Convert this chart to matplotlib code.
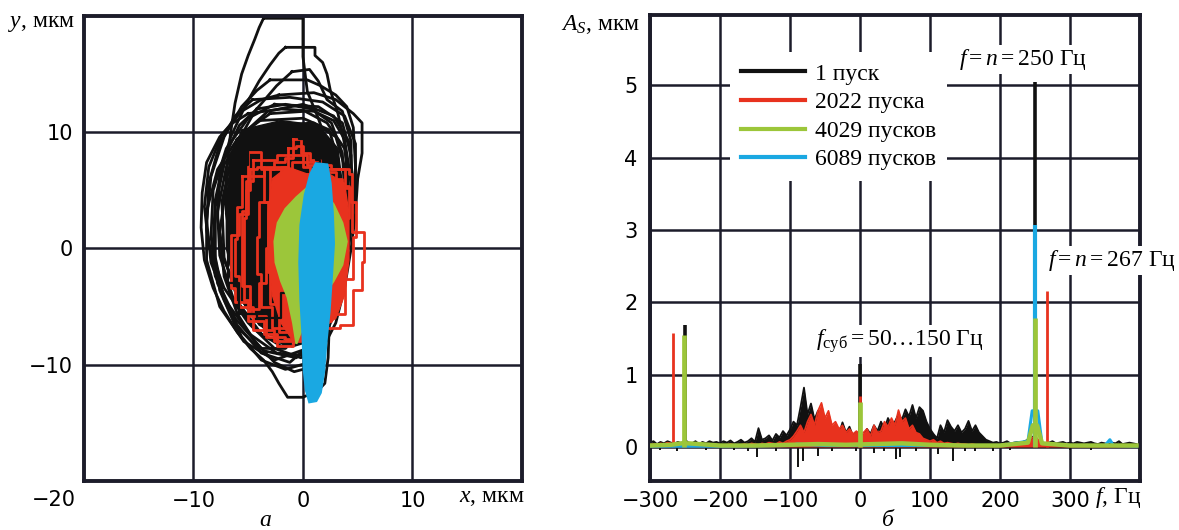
import numpy as np
import matplotlib
matplotlib.use("Agg")
import matplotlib.pyplot as plt
from matplotlib.lines import Line2D

plt.rcParams['mathtext.fontset'] = 'custom'
plt.rcParams['mathtext.rm'] = 'Liberation Serif'
plt.rcParams['mathtext.it'] = 'Liberation Serif:italic'
plt.rcParams['mathtext.bf'] = 'Liberation Serif:bold'

SERIF = 'Liberation Serif'
TICKFONT = 'DejaVu Sans'

C_BLACK = '#111111'
C_RED = '#e8321e'
C_GREEN = '#9cc63a'
C_BLUE = '#1aa8e2'
C_GRID = '#1c1c2a'

# ---------------------------------------------------------------------------
# orbit traces, um (x, y)
# ---------------------------------------------------------------------------
black_core = [(-5.6, 10.2), (-2.0, 11.0), (1.4, 10.6), (3.2, 8.6), (3.8, 4.0), (3.4, -1.0), (2.4, -5.0),
              (1.0, -7.4), (-1.6, -7.8), (-4.0, -6.6), (-6.0, -4.0), (-7.0, 0.0), (-7.0, 4.0), (-6.6, 7.6)]

black_loops = [
    [(-3.6, 19.8), (0.0, 19.8), (0.0, 16.5), (0.4, 13.5), (1.4, 11.2), (2.4, 8.5), (3.0, 5.0), (3.3, 1.0),
     (3.0, -3.0), (2.2, -6.0), (0.8, -7.8), (-1.2, -7.6), (-3.2, -6.0), (-5.0, -3.5), (-6.4, -0.5), (-7.0, 3.0),
     (-7.0, 6.5), (-6.6, 10.0), (-6.2, 12.5), (-5.6, 15.0), (-5.0, 16.6), (-4.4, 18.0), (-4.0, 19.0)],
    [(-1.6, 17.3), (1.1, 17.3), (1.1, 16.6), (1.8, 16.0), (2.2, 15.0), (2.5, 13.6), (3.2, 11.6), (3.8, 9.0),
     (4.1, 5.5), (4.0, 1.5), (3.4, -2.5), (2.5, -5.5), (1.2, -7.8), (-1.0, -8.4), (-3.4, -7.0), (-5.6, -4.4),
     (-7.2, -1.0), (-7.8, 2.6), (-7.6, 6.4), (-6.6, 9.6), (-5.2, 12.4), (-4.0, 14.4), (-3.0, 15.8), (-2.2, 16.8)],
    [(-3.0, 14.5), (0.4, 14.5), (1.6, 14.0), (3.0, 13.2), (4.0, 12.2), (4.6, 10.4), (4.8, 7.0), (4.6, 3.0),
     (4.0, -1.0), (3.2, -4.8), (2.0, -7.6), (0.2, -9.2), (-2.4, -9.0), (-4.8, -7.4), (-7.0, -4.6), (-8.4, -1.2),
     (-8.8, 2.4), (-8.4, 6.2), (-7.2, 9.6), (-5.6, 12.2), (-4.2, 13.6)],
    [(-2.2, 13.2), (1.0, 13.4), (3.0, 12.8), (4.6, 11.6), (5.4, 10.8), (5.4, 8.2), (5.0, 6.0), (4.8, 3.0),
     (4.4, 0.0), (3.8, -3.4), (3.0, -6.4), (1.8, -8.6), (-0.2, -9.4), (-2.6, -8.6), (-5.0, -6.4), (-7.2, -3.4),
     (-8.6, 0.2), (-9.0, 3.6), (-8.6, 7.0), (-7.4, 9.8), (-5.6, 11.8), (-3.8, 12.8)],
    [(-5.0, 11.6), (-2.0, 12.0), (1.0, 11.8), (2.8, 11.0), (3.8, 9.4), (4.2, 7.0), (4.0, 3.6), (3.4, 0.0),
     (2.8, -3.6), (2.4, -6.6), (2.3, -9.4), (2.0, -11.6), (1.4, -12.2), (0.0, -12.8), (-1.4, -12.8),
     (-2.2, -11.6), (-2.8, -10.6), (-3.6, -9.6), (-4.8, -8.6), (-6.0, -7.2), (-7.2, -5.4), (-8.2, -3.4),
     (-9.0, -1.0), (-9.3, 1.8), (-9.2, 4.8), (-8.8, 7.4), (-7.6, 9.6), (-6.4, 10.8)],
    [(-4.0, 11.0), (0.0, 11.2), (2.4, 10.2), (3.2, 7.6), (3.2, 3.6), (2.6, -0.8), (1.6, -4.8), (0.2, -7.6),
     (-2.0, -8.4), (-4.4, -7.0), (-6.4, -4.2), (-7.6, -0.6), (-7.8, 3.2), (-7.0, 7.0), (-5.8, 9.6)],
    [(-2.6, 12.4), (1.4, 12.2), (3.6, 10.8), (4.4, 8.0), (4.4, 4.0), (3.6, -0.6), (2.6, -4.6), (1.0, -8.0),
     (-1.2, -9.8), (-3.8, -9.0), (-6.0, -6.6), (-7.8, -3.0), (-8.4, 1.0), (-8.2, 5.0), (-7.0, 8.6), (-5.0, 11.2)],
    [(-3.6, 10.2), (-0.6, 10.6), (1.8, 9.8), (3.2, 7.4), (3.6, 3.6), (3.0, -0.8), (1.8, -4.4), (0.0, -6.8),
     (-2.4, -7.2), (-4.6, -5.4), (-6.2, -2.4), (-6.8, 1.4), (-6.4, 5.4), (-5.4, 8.2)],
    [(-4.6, 12.8), (-1.2, 13.0), (1.8, 12.6), (3.8, 11.4), (4.8, 9.0), (4.8, 5.0), (4.2, 0.6), (3.2, -3.6),
     (1.8, -7.2), (-0.6, -9.4), (-3.6, -8.8), (-6.2, -6.0), (-8.0, -2.4), (-8.8, 1.6), (-8.6, 5.6), (-7.6, 9.0),
     (-6.2, 11.4)],
    [(-2.0, 10.6), (1.0, 10.8), (3.0, 9.6), (4.0, 6.4), (4.0, 1.8), (3.2, -2.6), (1.8, -6.0), (-0.4, -7.8),
     (-3.0, -7.4), (-5.2, -5.0), (-6.6, -1.4), (-6.8, 2.6), (-6.0, 6.4), (-4.4, 9.2)],
    [(-6.0, 9.4), (-3.2, 11.8), (0.0, 12.4), (2.8, 11.4), (4.2, 9.2), (4.6, 5.4), (4.2, 1.0), (3.4, -3.0),
     (2.4, -6.2), (0.4, -8.6), (-2.6, -9.6), (-5.4, -8.0), (-7.6, -5.0), (-8.8, -1.0), (-8.8, 3.2), (-7.8, 6.8)],
    [(-1.0, 15.2), (0.6, 15.4), (1.4, 14.4), (2.2, 12.8), (3.6, 11.8), (4.4, 9.2), (4.4, 4.4), (3.6, -0.6),
     (2.6, -4.8), (1.4, -7.4), (-1.0, -8.4), (-3.6, -7.6), (-5.8, -4.8), (-7.2, -0.8), (-7.4, 4.0), (-6.4, 8.4),
     (-4.4, 11.8), (-2.4, 14.0)],
    [(-5.0, 9.0), (-2.6, 9.8), (-0.4, 9.4), (1.2, 7.6), (1.6, 4.2), (1.0, 0.2), (-0.2, -3.8), (-2.0, -6.0),
     (-4.2, -5.6), (-5.8, -3.0), (-6.8, 0.6), (-6.8, 4.4), (-6.2, 7.2)],
    [(-3.0, 11.6), (0.2, 11.8), (2.2, 10.8), (3.8, 8.6), (4.4, 5.6), (4.0, 2.0), (3.6, -1.8), (2.8, -5.2),
     (1.6, -8.2), (0.6, -9.8), (-1.6, -10.4), (-3.8, -9.6), (-5.6, -7.6), (-7.2, -4.4), (-8.0, -0.8),
     (-8.0, 3.6), (-7.2, 7.2), (-5.4, 10.0)],
    [(-4.2, 12.0), (-1.6, 12.4), (0.8, 12.0), (2.6, 10.8), (3.6, 8.2), (3.8, 4.8), (3.2, 1.2), (2.0, -2.8),
     (0.6, -6.4), (-1.6, -8.6), (-4.0, -8.6), (-6.2, -6.6), (-7.6, -3.6), (-8.2, 0.4), (-8.0, 4.2), (-7.2, 7.8),
     (-5.8, 10.6)],
    [(-3.2, 10.0), (-0.2, 10.2), (2.0, 9.0), (3.2, 6.6), (3.6, 3.0), (3.0, -1.0), (2.2, -5.0), (1.6, -8.2),
     (0.8, -10.2), (-0.8, -10.6), (-2.6, -9.8), (-4.4, -8.0), (-6.0, -5.6), (-7.2, -2.4), (-7.6, 1.4),
     (-7.0, 5.4), (-5.4, 8.4)],
]

red_core = [(-2.8, 6.0), (-1.4, 7.0), (0.4, 6.4), (2.4, 6.4), (3.8, 5.6), (4.2, 3.0), (4.2, -1.0), (3.8, -4.0),
            (3.0, -6.0), (1.0, -7.4), (-1.0, -7.8), (-2.0, -6.4), (-2.8, -4.0), (-3.2, -0.6), (-3.2, 3.0)]

red_loops = [
    [(-0.9, 9.4), (-0.2, 9.4), (-0.2, 8.2), (0.6, 7.6), (1.6, 6.8), (3.4, 6.8), (4.2, 6.4), (4.5, 4.2),
     (4.5, 1.4), (5.6, 1.2), (5.6, -1.2), (5.4, -3.6), (4.6, -4.0), (4.6, -6.6), (3.4, -6.8), (2.2, -6.2),
     (1.0, -7.6), (-0.9, -8.4), (-2.4, -7.4), (-3.6, -6.2), (-5.0, -4.6), (-6.2, -3.4), (-6.6, -1.2),
     (-6.6, 1.2), (-5.8, 3.0), (-5.0, 5.4), (-5.0, 8.3), (-4.2, 8.3), (-3.8, 6.8), (-2.6, 7.4), (-1.6, 7.8)],
    [(-4.6, 7.6), (-2.4, 8.0), (0.4, 7.2), (2.6, 6.8), (3.8, 5.4), (4.2, 2.6), (4.0, -1.0), (3.6, -4.0),
     (2.6, -6.2), (0.6, -7.8), (-1.6, -7.6), (-3.4, -5.8), (-4.8, -3.2), (-5.6, 0.0), (-5.6, 3.2), (-5.2, 5.8)],
    [(-3.0, 6.8), (-1.0, 7.4), (1.0, 6.6), (3.0, 6.0), (3.6, 3.6), (3.6, 0.4), (3.2, -2.6), (2.2, -5.0),
     (0.4, -6.6), (-1.4, -6.8), (-2.8, -5.0), (-3.8, -2.2), (-4.2, 1.0), (-4.0, 4.0)],
    [(-5.6, 6.2), (-3.6, 7.0), (-1.4, 6.4), (0.6, 5.6), (2.8, 5.2), (4.4, 4.0), (4.8, 1.0), (4.6, -2.6),
     (3.8, -5.6), (2.0, -7.2), (-0.2, -8.0), (-2.6, -7.0), (-4.6, -5.0), (-5.8, -2.4), (-6.2, 0.8), (-6.0, 3.6)],
    [(-1.4, 8.6), (-0.6, 8.8), (0.0, 7.0), (0.6, 4.0), (0.8, 0.0), (0.4, -4.0), (-0.4, -7.0), (-1.4, -7.2),
     (-2.2, -4.0), (-2.6, 0.0), (-2.4, 4.0), (-2.0, 7.0)],
    [(-4.8, 6.8), (-4.2, 7.0), (-3.6, 4.0), (-3.2, 0.0), (-3.4, -3.0), (-4.0, -5.2), (-4.8, -4.4),
     (-5.4, -1.0), (-5.4, 2.6), (-5.2, 5.0)],
    [(-2.0, 5.4), (0.0, 5.8), (2.0, 5.2), (3.0, 3.0), (3.2, 0.0), (2.8, -3.0), (1.6, -5.6), (-0.4, -6.2),
     (-2.0, -4.8), (-3.0, -2.0), (-3.2, 1.0), (-2.8, 3.6)],
]

green_area = [(-0.6, 4.4), (0.6, 5.4), (1.8, 5.0), (2.8, 3.8), (3.6, 2.2), (4.0, 0.6), (3.6, -1.4), (2.8, -2.8),
              (1.8, -4.2), (0.8, -5.8), (-0.2, -7.2), (-0.6, -8.2), (-0.9, -6.4), (-1.4, -4.2), (-2.0, -2.8),
              (-2.5, -1.2), (-2.6, 0.6), (-2.3, 2.2), (-1.6, 3.4)]

blue_area = [(1.2, 7.3), (2.2, 7.2), (2.5, 5.6), (2.7, 3.0), (2.8, 0.4), (2.6, -2.6), (2.4, -5.4), (2.1, -8.2),
             (1.9, -10.6), (1.6, -12.4), (1.2, -13.1), (0.6, -13.2), (0.3, -12.2), (0.1, -10.4), (0.0, -7.6),
             (-0.2, -4.4), (-0.3, -1.2), (-0.2, 2.0), (0.2, 4.6), (0.7, 6.4)]

# ---------------------------------------------------------------------------
# amplitude spectra, um; noise floor sampled every 5 Hz from -300 Hz
# ---------------------------------------------------------------------------
black_amp = [
    0.06, 0.08, 0.04, 0.07, 0.05, 0.08, 0.06, 0.05, 0.07, 0.05,
    0.10, 0.06, 0.05, 0.08, 0.04, 0.07, 0.05, 0.08, 0.06, 0.07,
    0.05, 0.08, 0.06, 0.09, 0.05, 0.07, 0.10, 0.06, 0.08, 0.12,
    0.07, 0.26, 0.10, 0.12, 0.16, 0.09, 0.18, 0.13, 0.22, 0.16,
    0.24, 0.35, 0.30, 0.55, 0.82, 0.45, 0.60, 0.38, 0.50, 0.30,
    0.32, 0.40, 0.22, 0.30, 0.18, 0.34, 0.20, 0.28, 0.15, 0.20,
    0.20, 0.15, 0.25, 0.18, 0.30, 0.22, 0.35, 0.25, 0.40, 0.30,
    0.35, 0.45, 0.38, 0.52, 0.42, 0.58, 0.40, 0.55, 0.50, 0.35,
    0.25, 0.18, 0.12, 0.30, 0.20, 0.37, 0.28, 0.22, 0.30, 0.20,
    0.25, 0.36, 0.22, 0.30, 0.20, 0.15, 0.10, 0.08, 0.06, 0.07,
    0.05, 0.06, 0.08, 0.05, 0.06, 0.07, 0.06, 0.08, 0.10, 0.15,
    0.10, 0.07, 0.06, 0.05, 0.06, 0.08, 0.05, 0.06, 0.07, 0.05,
    0.06, 0.05, 0.07, 0.06, 0.05, 0.06, 0.07, 0.05, 0.04, 0.06,
    0.05, 0.04, 0.06, 0.05, 0.08, 0.04, 0.05, 0.06, 0.05, 0.04,
]
red_amp = [
    0.03, 0.04, 0.03, 0.05, 0.04, 0.06, 0.05, 0.03, 0.04, 0.03,
    0.03, 0.04, 0.03, 0.02, 0.03, 0.04, 0.03, 0.02, 0.03, 0.03,
    0.03, 0.02, 0.03, 0.04, 0.03, 0.02, 0.03, 0.04, 0.03, 0.05,
    0.04, 0.03, 0.05, 0.04, 0.06, 0.05, 0.04, 0.07, 0.05, 0.08,
    0.10, 0.15, 0.22, 0.30, 0.20, 0.35, 0.45, 0.30, 0.50, 0.61,
    0.40, 0.50, 0.30, 0.35, 0.25, 0.30, 0.20, 0.25, 0.18, 0.22,
    0.15, 0.20, 0.25, 0.15, 0.30, 0.20, 0.22, 0.35, 0.28, 0.40,
    0.30, 0.51, 0.35, 0.40, 0.25, 0.30, 0.20, 0.18, 0.12, 0.10,
    0.08, 0.10, 0.06, 0.08, 0.05, 0.06, 0.05, 0.04, 0.05, 0.04,
    0.04, 0.03, 0.04, 0.03, 0.02, 0.03, 0.02, 0.03, 0.02, 0.03,
    0.02, 0.03, 0.02, 0.03, 0.02, 0.03, 0.04, 0.05, 0.08, 0.12,
    0.15, 0.10, 0.06, 0.04, 0.03, 0.02, 0.03, 0.02, 0.03, 0.02,
    0.02, 0.03, 0.02, 0.02, 0.03, 0.02, 0.02, 0.03, 0.02, 0.02,
    0.02, 0.02, 0.03, 0.02, 0.02, 0.02, 0.03, 0.02, 0.02, 0.02,
]
green_f = [-300, -270, -255, -245, -200, -150, -100, -60, -20, 20, 60, 100, 150, 200, 240, 247, 253, 260, 300, 350, 395]
green_amp = [0.02, 0.03, 0.05, 0.05, 0.02, 0.02, 0.03, 0.04, 0.03, 0.04, 0.05, 0.03, 0.02, 0.02, 0.06, 0.30,
             0.30, 0.05, 0.02, 0.02, 0.02]
blue_f = [-300, -200, -100, -90, -50, 0, 50, 100, 200, 240, 246, 254, 260, 300, 350, 357, 362, 395]
blue_amp = [0.01, 0.01, 0.02, 0.04, 0.02, 0.02, 0.02, 0.02, 0.02, 0.08, 0.50, 0.50, 0.05, 0.02, 0.02, 0.10,
            0.02, 0.01]

black_peak_f = [-250, 0, 250]
black_peak_a = [1.68, 1.15, 5.05]
red_peak_f = [-267, 0, 267]
red_peak_a = [1.57, 0.70, 2.15]
green_peak_f = [-251, 0, 250]
green_peak_a = [1.55, 0.62, 1.78]
blue_peak_f = [250]
blue_peak_a = [3.07]
black_dip_f = [-285, -262, -220, -180, -160, -147, -120, -88, -82, -60, -40, -5, 20, 35, 52, 57, 80, 112,
               133, 150, 165, 190, 215, 300, 330]
black_dip_a = [-0.04, -0.05, -0.04, -0.04, -0.05, -0.14, -0.05, -0.28, -0.20, -0.12, -0.06, -0.06, -0.08,
               -0.05, -0.16, -0.14, -0.05, -0.10, -0.20, -0.05, -0.06, -0.05, -0.04, -0.04, -0.04]

legend_labels = ['1 пуск', '2022 пуска', '4029 пусков', '6089 пусков']

fig = plt.figure(figsize=(11.79, 5.30), dpi=100)
ax1 = fig.add_axes([0.0712, 0.0925, 0.3715, 0.8774])
ax2 = fig.add_axes([0.5513, 0.0925, 0.4156, 0.8792])

for ax in (ax1, ax2):
    for s in ax.spines.values():
        s.set_linewidth(2.8)
        s.set_color(C_GRID)
    ax.tick_params(length=0, labelsize=15)

# --- а: orbit ---------------------------------------------------------------
ax1.set_xlim(-20, 20)
ax1.set_ylim(-20, 20)
ax1.set_xticks([-10, 0, 10])
ax1.set_yticks([-10, 0, 10])
ax1.grid(True, color=C_GRID, lw=1.8)
ax1.set_axisbelow(True)
ax1.tick_params(axis='x', pad=7)
ax1.tick_params(axis='y', pad=8)

c = np.array(black_core)
ax1.fill(c[:, 0], c[:, 1], fc=C_BLACK, ec=C_BLACK, lw=1, zorder=2)
for loop in black_loops:
    p = np.array(loop + [loop[0]])
    ax1.plot(p[:, 0], p[:, 1], color=C_BLACK, lw=2.0, zorder=2)
r = np.array(red_core)
ax1.fill(r[:, 0], r[:, 1], fc=C_RED, ec=C_RED, lw=1, zorder=3)
# the red traces are quantised, so they are drawn as steps
for loop in red_loops:
    p = np.array(loop + [loop[0]])
    ax1.plot(p[:, 0], p[:, 1], drawstyle='steps-post', color=C_RED, lw=2.0, zorder=3)
for loop in black_loops[12:13]:
    p = np.array(loop + [loop[0]])
    ax1.plot(p[:, 0], p[:, 1], drawstyle='steps-post', color=C_BLACK, lw=1.6, zorder=3)
g = np.array(green_area)
ax1.fill(g[:, 0], g[:, 1], fc=C_GREEN, ec=C_GREEN, lw=1.5, zorder=4)
b = np.array(blue_area)
ax1.fill(b[:, 0], b[:, 1], fc=C_BLUE, ec=C_BLUE, lw=2, zorder=5)

fig.text(75 / 1179, 1 - 23 / 530, '$y$, мкм', family=SERIF, fontsize=17, ha='right', va='center')
fig.text(524 / 1179, 1 - 498 / 530, '$x$, мкм', family=SERIF, fontsize=17, ha='right', va='center')
fig.text(76 / 1179, 1 - 500 / 530, '\u221220', family=TICKFONT, fontsize=15, ha='right', va='center')
fig.text(265 / 1179, 1 - 520 / 530, 'а', family=SERIF, style='italic', fontsize=17, ha='center', va='center')

# --- б: spectrum ------------------------------------------------------------
freq = np.arange(-300, 400, 5)
ax2.set_xlim(-300, 400)
ax2.set_ylim(-0.47, 5.97)
ax2.set_xticks([-300, -200, -100, 0, 100, 200, 300])
ax2.set_yticks([0, 1, 2, 3, 4, 5])
ax2.grid(True, color=C_GRID, lw=1.8)
ax2.set_axisbelow(True)
ax2.tick_params(axis='x', pad=7)
ax2.tick_params(axis='y', pad=9)

ax2.fill_between(freq, 0, black_amp, color=C_BLACK, lw=0, zorder=2)
ax2.plot(freq, black_amp, color=C_BLACK, lw=1.3, zorder=2)
ax2.vlines(black_dip_f, 0, black_dip_a, color=C_BLACK, lw=1.4, zorder=2)
ax2.vlines(black_peak_f, 0, black_peak_a, color=C_BLACK, lw=2.6, zorder=2)

ax2.fill_between(freq, 0, red_amp, color=C_RED, lw=0, zorder=3)
ax2.plot(freq, red_amp, color=C_RED, lw=1.2, zorder=3)
ax2.vlines(red_peak_f, 0, red_peak_a, color=C_RED, lw=2.0, zorder=3)

ax2.plot(blue_f, blue_amp, color=C_BLUE, lw=2.2, zorder=4)
ax2.vlines(blue_peak_f, 0, blue_peak_a, color=C_BLUE, lw=3.0, zorder=4)

ax2.plot(green_f, green_amp, color=C_GREEN, lw=3.2, zorder=5)
ax2.vlines(green_peak_f, 0, green_peak_a, color=C_GREEN, lw=3.4, zorder=5)

handles = [Line2D([], [], color=c, lw=3) for c in (C_BLACK, C_RED, C_GREEN, C_BLUE)]
leg = ax2.legend(handles, legend_labels, loc='upper left', bbox_to_anchor=(0.14, 0.945),
                 prop={'family': SERIF, 'size': 17}, handlelength=2.7, handletextpad=0.45,
                 labelspacing=0.3, borderpad=0.45, frameon=True, fancybox=False)
leg.get_frame().set_facecolor('white')
leg.get_frame().set_edgecolor('none')
leg.get_frame().set_alpha(1)

box = dict(fc='white', ec='none', pad=1.5)
ax2.text(142, 5.36, '$f=n=250$ Гц', family=SERIF, fontsize=17, ha='left', va='center',
         bbox=box, zorder=10)
ax2.text(268, 2.58, '$f=n=267$ Гц', family=SERIF, fontsize=17, ha='left', va='center',
         bbox=box, zorder=10, clip_on=False)
ax2.text(-63, 1.47, '$f_{\\mathrm{суб}}=50\\ldots150$ Гц', family=SERIF, fontsize=17, ha='left',
         va='center', bbox=box, zorder=10)

fig.text(640 / 1179, 1 - 25 / 530, '$A_S$, мкм', family=SERIF, fontsize=17, ha='right', va='center')
fig.text(1141 / 1179, 1 - 498 / 530, '$f$, Гц', family=SERIF, fontsize=17, ha='right', va='center')
fig.text(888 / 1179, 1 - 520 / 530, 'б', family=SERIF, style='italic', fontsize=17, ha='center', va='center')

fig.savefig('out.png', dpi=100, facecolor='white')
